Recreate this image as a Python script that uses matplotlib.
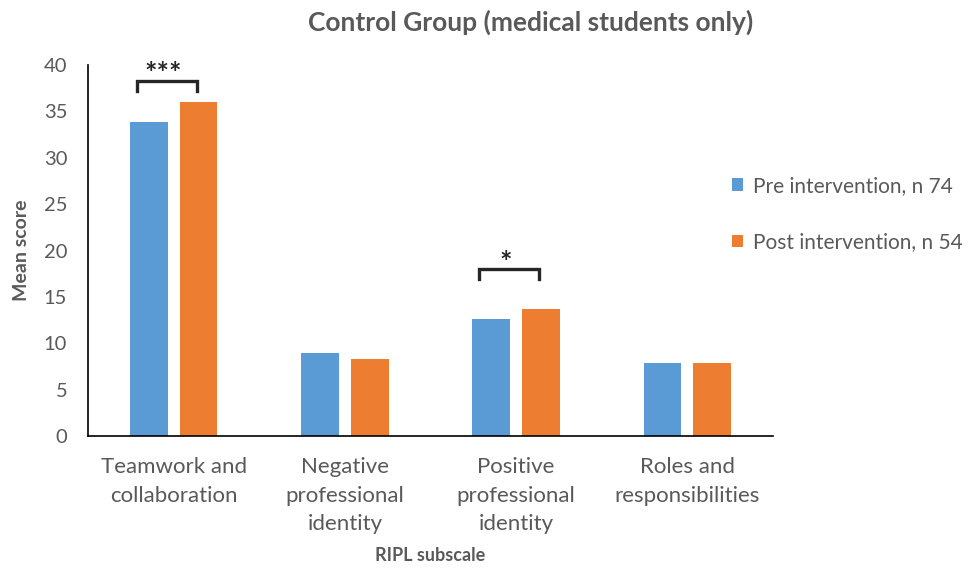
import matplotlib
matplotlib.use("Agg")
import matplotlib.pyplot as plt
import numpy as np

categories = ["Teamwork and\ncollaboration", "Negative\nprofessional\nidentity",
              "Positive\nprofessional\nidentity", "Roles and\nresponsibilities"]
pre_values = [33.9, 8.9, 12.6, 7.9]
post_values = [36.0, 8.3, 13.7, 7.9]
series_labels = ["Pre intervention, n 74", "Post intervention, n 54"]
yticks = [0, 5, 10, 15, 20, 25, 30, 35, 40]
# significance annotations: (category index, marker text, bracket level)
significance = [(0, "***", 38.3), (2, "*", 18.0)]

BLUE = "#5B9BD5"
ORANGE = "#ED7D31"
GRAY = "#595959"

plt.rcParams['font.family'] = ['Lato', 'DejaVu Sans']

fig = plt.figure(figsize=(9.74, 5.70), dpi=100)
ax = fig.add_axes([88/974, 1-436/570, (773-88)/974, (436-65)/570])

x = np.arange(len(categories))
w = 0.22
off = 0.145
b1 = ax.bar(x - off, pre_values, w, color=BLUE, label=series_labels[0])
b2 = ax.bar(x + off, post_values, w, color=ORANGE, label=series_labels[1])

ax.set_xlim(-0.5, len(categories) - 0.5)
ax.set_ylim(0, 40)
ax.set_yticks(yticks)
ax.set_xticks(x)
ax.set_xticklabels(categories, fontsize=16, color=GRAY, linespacing=1.55)
ax.tick_params(axis='y', labelsize=14.5, labelcolor=GRAY, length=0, pad=15)
ax.tick_params(axis='x', length=0, pad=15)
for s in ["top", "right"]:
    ax.spines[s].set_visible(False)
ax.spines["left"].set_color("black")
ax.spines["bottom"].set_color("black")
ax.spines["left"].set_linewidth(1.2)
ax.spines["bottom"].set_linewidth(1.2)

# significance brackets
for idx, txt, ytop in significance:
    ybot = ytop - 1.1
    x0 = x[idx] - off - 0.07
    x1 = x[idx] + off - 0.01
    ax.plot([x0, x0, x1, x1], [ybot, ytop, ytop, ybot], color="#262626", lw=2.4,
            solid_joinstyle='miter', clip_on=False)
    ax.text((x0 + x1) / 2 - 0.02, ytop - 0.7, txt, ha='center', va='bottom',
            fontsize=21, fontweight='bold', color="#262626", clip_on=False)

ax.set_ylabel("Mean score", fontsize=14, fontweight='bold', color=GRAY, labelpad=10)
ax.set_xlabel("RIPL subscale", fontsize=13, fontweight='bold', color=GRAY, labelpad=9)

fig.text(531/974, 1-22/570, "Control Group (medical students only)", ha='center', va='center',
         fontsize=19, fontweight='bold', color=GRAY)

leg = fig.legend(handles=[b1, b2], labels=series_labels, loc='center left',
                 bbox_to_anchor=(732/974, 1-214/570), frameon=False, fontsize=15,
                 borderaxespad=0, borderpad=0,
                 handlelength=0.55, handleheight=0.55, handletextpad=0.45, labelspacing=1.75)
for t in leg.get_texts():
    t.set_color(GRAY)

fig.savefig("out.png", dpi=100)
